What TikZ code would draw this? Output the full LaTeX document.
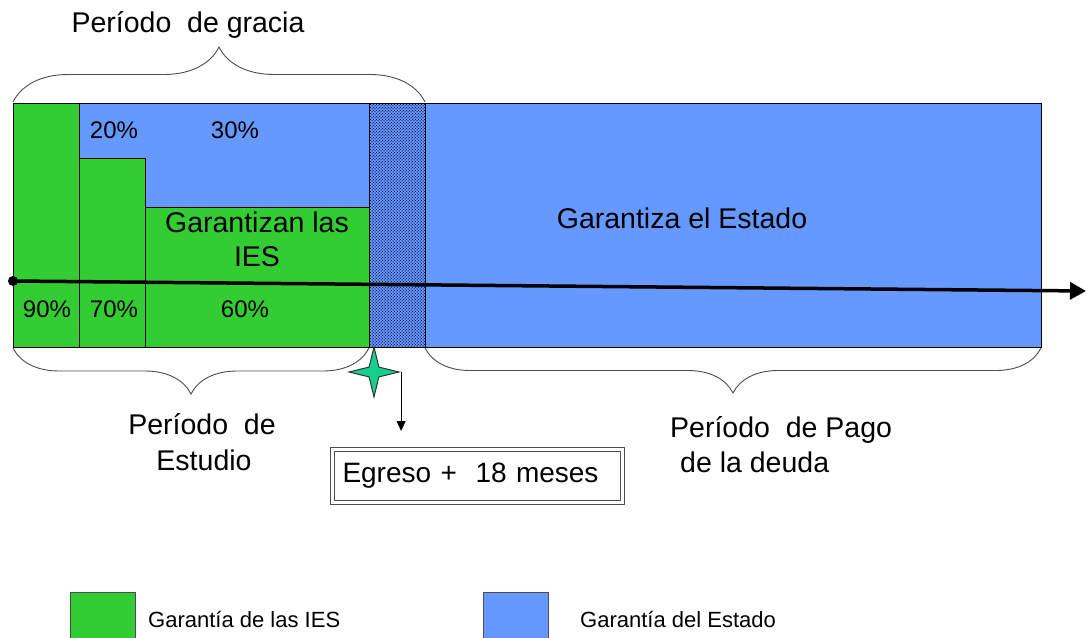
\documentclass[tikz,border=0pt]{standalone}
\usepackage{fontspec}
\setmainfont{Liberation Sans}
\usetikzlibrary{positioning, calc, patterns, shapes.geometric, decorations.pathreplacing, arrows.meta}
\definecolor{iesgreen}{RGB}{51,204,51}
\definecolor{estblue}{RGB}{102,153,255}
\definecolor{stargreen}{RGB}{20,208,140}
\tikzset{
  cell/.style={draw=black, line width=0.8pt},
  curly/.style={decorate, decoration={brace, amplitude=#1}, draw=black!70, line width=0.9pt},
  bigtext/.style={font=\fontsize{28.5}{32}\selectfont, inner sep=0pt, anchor=base},
  pcttext/.style={font=\fontsize{24}{28}\selectfont, inner sep=0pt, anchor=base},
  legtext/.style={font=\fontsize{22}{26}\selectfont, inner sep=0pt, anchor=base west},
}

\begin{document}
\begin{tikzpicture}[x=1pt, y=-1pt]
                \useasboundingbox (0,0) rectangle (1086,637);
                % bloques de garantia
                \draw[cell, fill=estblue]  (425,103) rectangle (1041,347);
                \draw[cell, fill=estblue]  (79,103) rectangle (369,207);
                \draw[cell, fill=iesgreen] (13,103) rectangle (79,347);
                \draw[cell, fill=iesgreen] (79,158) rectangle (145,347);
                \draw[cell, fill=iesgreen] (145,207) rectangle (369,347);
                \fill[estblue] (369,103) rectangle (425,347);
                \fill[pattern=crosshatch dots, pattern color=blue!20!black] (369,103) rectangle (425,347);
                \fill[pattern=dots, pattern color=blue!20!black] (369,103) rectangle (425,347);
                \draw[cell] (369,103) rectangle (425,347);
                \node[pcttext] (p20) at (114,138) {20\%};
                \node[pcttext] (p30) at (235,138) {30\%};
                \node[pcttext] (p90) at (47,317) {90\%};
                \node[pcttext] (p70) at (114,317) {70\%};
                \node[pcttext] (p60) at (245,317) {60\%};
                \node[bigtext] (ies) at (257,232) {Garantizan las};
                \node[bigtext] (ies2) at (257,266) {IES};
                \node[bigtext] (estado) at (682,228) {Garantiza el Estado};
                % linea de tiempo
                \node[circle, fill=black, inner sep=0pt, minimum size=10pt] (inicio) at (13,281) {};
                \coordinate (fin) at (1086,291);
                \draw[line width=3.5pt, -{Triangle[length=16pt,width=17pt]}] (inicio.center) -- (fin);
                % llaves
                \draw[curly=55pt] (13,102) -- (425,102);
                \draw[curly=46pt] (369,348) -- (13,348);
                \draw[curly=45pt] (1041,348) -- (425,348);
                \node[bigtext] (gracia) at (188,32) {Período\ \ de gracia};
                \node[bigtext] (estudio) at (202,434) {Período\ \ de};
                \node[bigtext] (estudio2) at (204,470) {Estudio};
                \node[bigtext, anchor=base west] (pago) at (670,437) {Período\ \ de Pago};
                \node[bigtext, anchor=base west] (pago2) at (680,472) {de la deuda};
                % egreso
                \node[star, star points=4, star point ratio=3.6, minimum size=50pt, inner sep=0pt,
                      fill=stargreen, draw=black!80, line width=1pt] (salida) at (374,372) {};
                \node[draw=black!70, double, double distance=2.5pt, line width=1.5pt,
                      minimum width=290pt, minimum height=53pt, text width=270pt, align=left,
                      inner sep=0pt, font=\fontsize{28}{32}\selectfont] (egreso) at (477.5,476) {Egreso +\ \ 18 meses};
                \coordinate (bajada) at ($(salida.east)+(0,59)$);
                \draw[line width=0.8pt, -{Triangle[length=10pt,width=9pt]}] (salida.east) -- (bajada);
                % leyenda
                \draw[draw=black!70, line width=0.8pt, fill=iesgreen] (70,592) rectangle (135,645);
                \draw[draw=black!70, line width=0.8pt, fill=estblue] (483,592) rectangle (548,645);
                \node[legtext] (legies) at (148,627) {Garantía de las IES};
                \node[legtext] (legest) at (580,627) {Garantía del Estado};
            \end{tikzpicture}
\end{document}
